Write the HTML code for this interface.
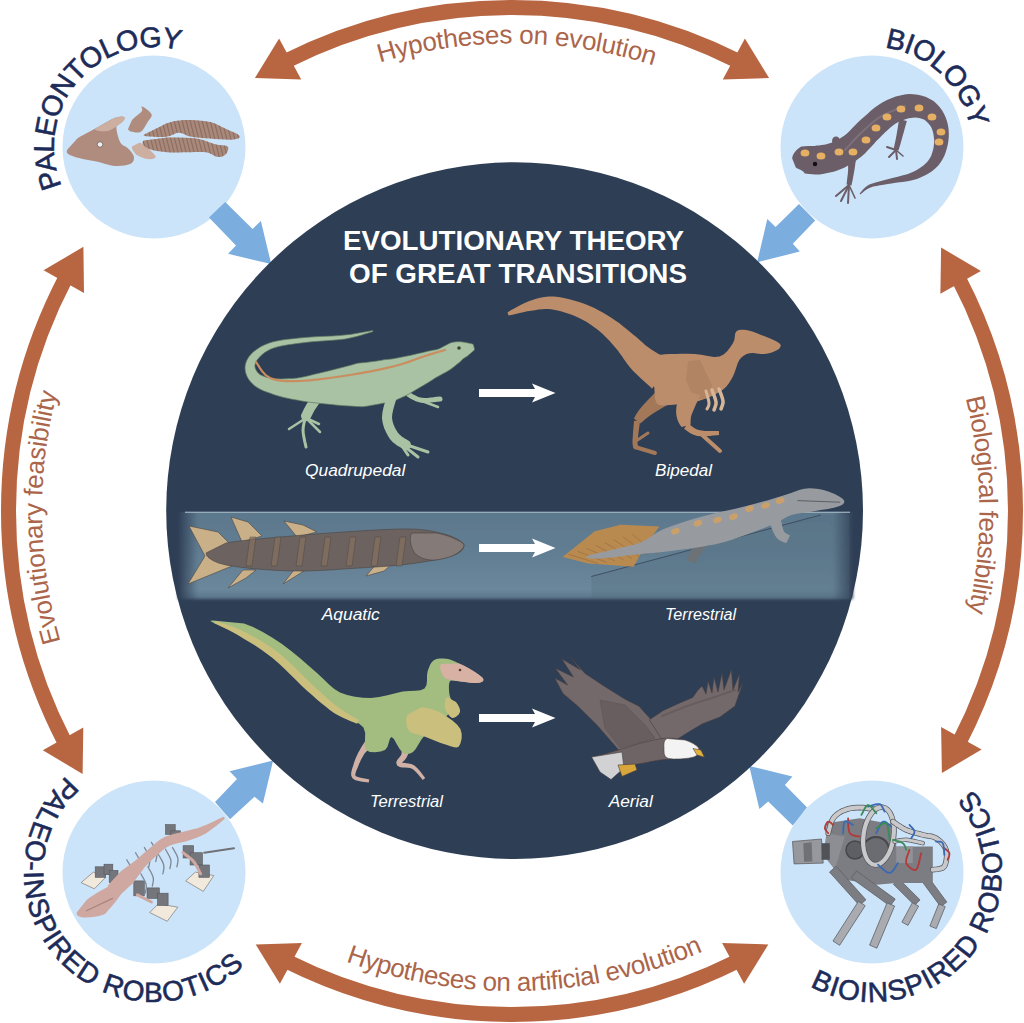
<!DOCTYPE html>
<html><head><meta charset="utf-8"><style>html,body{margin:0;padding:0;background:#fff;}svg{display:block}</style></head>
<body><svg width="1024" height="1023" viewBox="0 0 1024 1023">
<defs><path id="t_top" d="M157.0,206.8 A467.5,467.5 0 0 1 873.3,214.3"/><path id="t_bot" d="M153.1,829.7 A480.0,480.0 0 0 0 888.2,809.2"/><path id="t_left" d="M214.9,875.2 A470.0,470.0 0 0 1 204.9,155.2"/><path id="t_right" d="M807.8,149.0 A467.5,467.5 0 0 1 817.2,865.2"/><path id="l_pal" d="M77.4,211.3 A100.0,100.0 0 0 1 207.0,62.2"/><path id="l_bio" d="M851.4,49.1 A100.0,100.0 0 0 1 971.0,161.1"/><path id="l_pir" d="M104.3,751.9 A130.0,130.0 0 1 0 270.8,929.0"/><path id="l_bir" d="M774.6,958.1 A130.0,130.0 0 1 0 938.2,760.1"/><linearGradient id="wg" x1="0" y1="0" x2="0" y2="1">
<stop offset="0" stop-color="#5b778c"/><stop offset="0.5" stop-color="#617d92"/><stop offset="0.9" stop-color="#6b879b"/><stop offset="1" stop-color="#5a7489"/></linearGradient>
<linearGradient id="wgx" x1="0" y1="0" x2="1" y2="0">
<stop offset="0" stop-color="#2e3e55" stop-opacity="1"/><stop offset="0.03" stop-color="#2e3e55" stop-opacity="0"/><stop offset="0.97" stop-color="#2e3e55" stop-opacity="0"/><stop offset="1" stop-color="#2e3e55" stop-opacity="1"/></linearGradient>
<filter id="blur3" x="-5%" y="-20%" width="110%" height="140%"><feGaussianBlur stdDeviation="1.8"/></filter>
<clipPath id="bandclip"><rect x="150" y="512" width="740" height="110"/></clipPath></defs>
<rect width="1024" height="1023" fill="#ffffff"/>
<path d="M286.2,61.0 A503.5,503.5 0 0 1 737.8,61.0" fill="none" stroke="#b86541" stroke-width="15"/>
<path d="M254.9,78.1 L279.1,38.6 L301.2,79.4 Z" fill="#b86541"/>
<path d="M769.1,78.1 L722.8,79.4 L744.9,38.6 Z" fill="#b86541"/>
<path d="M958.6,278.5 A503.5,503.5 0 0 1 959.3,742.1" fill="none" stroke="#b86541" stroke-width="15"/>
<path d="M941.1,247.5 L980.9,271.1 L940.4,293.8 Z" fill="#b86541"/>
<path d="M941.9,773.1 L941.1,726.9 L981.6,749.4 Z" fill="#b86541"/>
<path d="M737.0,961.4 A503.5,503.5 0 0 1 287.0,961.4" fill="none" stroke="#b86541" stroke-width="15"/>
<path d="M768.3,944.4 L744.1,983.8 L722.1,942.9 Z" fill="#b86541"/>
<path d="M255.7,944.4 L301.9,942.9 L279.9,983.8 Z" fill="#b86541"/>
<path d="M65.1,742.9 A503.5,503.5 0 0 1 65.8,277.7" fill="none" stroke="#b86541" stroke-width="15"/>
<path d="M82.6,773.9 L42.8,750.3 L83.3,727.6 Z" fill="#b86541"/>
<path d="M83.4,246.8 L84.0,293.0 L43.6,270.3 Z" fill="#b86541"/>
<text font-family="Liberation Sans, sans-serif" font-size="26" fill="#ab654a" font-weight="normal" stroke="#ab654a" stroke-width="0" ><textPath href="#t_top" startOffset="50%" text-anchor="middle" textLength="278" lengthAdjust="spacing">Hypotheses on evolution</textPath></text>
<text font-family="Liberation Sans, sans-serif" font-size="26" fill="#ab654a" font-weight="normal" stroke="#ab654a" stroke-width="0" ><textPath href="#t_bot" startOffset="50%" text-anchor="middle" textLength="366" lengthAdjust="spacing">Hypotheses on artificial evolution</textPath></text>
<text font-family="Liberation Sans, sans-serif" font-size="26" fill="#ab654a" font-weight="normal" stroke="#ab654a" stroke-width="0" ><textPath href="#t_left" startOffset="50%" text-anchor="middle" textLength="252" lengthAdjust="spacing">Evolutionary feasibility</textPath></text>
<text font-family="Liberation Sans, sans-serif" font-size="26" fill="#ab654a" font-weight="normal" stroke="#ab654a" stroke-width="0" ><textPath href="#t_right" startOffset="50%" text-anchor="middle" textLength="216" lengthAdjust="spacing">Biological feasibility</textPath></text>
<circle cx="154" cy="147" r="91.5" fill="#cbe4f9"/>
<circle cx="872" cy="147" r="91.5" fill="#cbe4f9"/>
<circle cx="154" cy="872" r="91.5" fill="#cbe4f9"/>
<circle cx="872" cy="872" r="91.5" fill="#cbe4f9"/>
<text font-family="Liberation Sans, sans-serif" font-size="28.5" fill="#1d2b59" font-weight="normal" stroke="#1d2b59" stroke-width="0.6" ><textPath href="#l_pal" startOffset="50%" text-anchor="middle" textLength="223" lengthAdjust="spacing">PALEONTOLOGY</textPath></text>
<text font-family="Liberation Sans, sans-serif" font-size="28.5" fill="#1d2b59" font-weight="normal" stroke="#1d2b59" stroke-width="0.6" ><textPath href="#l_bio" startOffset="50%" text-anchor="middle" textLength="125" lengthAdjust="spacing">BIOLOGY</textPath></text>
<text font-family="Liberation Sans, sans-serif" font-size="28" fill="#1d2b59" font-weight="normal" stroke="#1d2b59" stroke-width="0.6" ><textPath href="#l_pir" startOffset="50%" text-anchor="middle" textLength="412" lengthAdjust="spacing">PALEO-INSPIRED ROBOTICS</textPath></text>
<text font-family="Liberation Sans, sans-serif" font-size="28" fill="#1d2b59" font-weight="normal" stroke="#1d2b59" stroke-width="0.6" ><textPath href="#l_bir" startOffset="50%" text-anchor="middle" textLength="358" lengthAdjust="spacing">BIOINSPIRED ROBOTICS</textPath></text>
<path d="M225.2,202.0 L252.6,228.9 L260.9,221.0 L271.2,264.1 L228.1,253.8 L236.0,245.5 L209.0,217.6 Z" fill="#7badde"/>
<path d="M757.2,262.2 L799.8,251.6 L792.8,243.7 L815.2,220.4 L799.0,204.1 L775.6,227.0 L767.3,219.0 Z" fill="#7badde"/>
<path d="M273.1,760.5 L262.9,803.6 L254.5,796.7 L230.0,819.2 L215.0,802.0 L237.0,779.1 L229.6,771.3 Z" fill="#7badde"/>
<path d="M749.2,766.0 L792.4,776.5 L784.9,784.9 L806.9,807.3 L792.8,825.4 L768.2,801.6 L759.4,809.0 Z" fill="#7badde"/>
<circle cx="514.6" cy="510.6" r="348.4" fill="#2d3e55"/>
<text x="513.5" y="250" font-family="Liberation Sans, sans-serif" font-weight="bold" font-size="26.8" fill="#ffffff" text-anchor="middle" textLength="341" lengthAdjust="spacingAndGlyphs">EVOLUTIONARY THEORY</text>
<text x="518" y="283.4" font-family="Liberation Sans, sans-serif" font-weight="bold" font-size="26.8" fill="#ffffff" text-anchor="middle" textLength="338" lengthAdjust="spacingAndGlyphs">OF GREAT TRANSITIONS</text>
<g clip-path="url(#bandclip)" filter="url(#blur3)"><rect x="178" y="505" width="675" height="94" fill="url(#wg)"/><rect x="178" y="505" width="675" height="94" fill="url(#wgx)"/></g>
<rect x="185" y="511.6" width="665" height="1.4" fill="#a8bac6" opacity="0.8"/>
<path d="M479,389 L535,389 L532,383.4 L555.5,393 L532,402.6 L535,397 L479,397 Z" fill="#ffffff"/>
<path d="M479,544 L535,544 L532,538.4 L555.5,548 L532,557.6 L535,552 L479,552 Z" fill="#ffffff"/>
<path d="M479,714 L535,714 L532,708.4 L555.5,718 L532,727.6 L535,722 L479,722 Z" fill="#ffffff"/>
<text x="355.15" y="475.8" font-family="Liberation Sans, sans-serif" font-style="italic" font-size="16" fill="#ffffff" text-anchor="middle" textLength="100.30000000000001" lengthAdjust="spacingAndGlyphs">Quadrupedal</text>
<text x="683.5" y="475.8" font-family="Liberation Sans, sans-serif" font-style="italic" font-size="16" fill="#ffffff" text-anchor="middle" textLength="57" lengthAdjust="spacingAndGlyphs">Bipedal</text>
<text x="350.75" y="619.5" font-family="Liberation Sans, sans-serif" font-style="italic" font-size="16" fill="#ffffff" text-anchor="middle" textLength="58.10000000000002" lengthAdjust="spacingAndGlyphs">Aquatic</text>
<text x="700.5" y="619.9" font-family="Liberation Sans, sans-serif" font-style="italic" font-size="16" fill="#ffffff" text-anchor="middle" textLength="71" lengthAdjust="spacingAndGlyphs">Terrestrial</text>
<text x="406.5" y="806.6" font-family="Liberation Sans, sans-serif" font-style="italic" font-size="16" fill="#ffffff" text-anchor="middle" textLength="73" lengthAdjust="spacingAndGlyphs">Terrestrial</text>
<text x="630.75" y="806.5" font-family="Liberation Sans, sans-serif" font-style="italic" font-size="16" fill="#ffffff" text-anchor="middle" textLength="44.09999999999991" lengthAdjust="spacingAndGlyphs">Aerial</text>
<g stroke="#5d7560" stroke-width="0.7">
<path d="M322.0,392.0 L320.6,393.8 L318.5,396.4 L316.2,399.3 L313.9,402.3 L312.0,405.0 L310.4,407.5 L309.0,410.1 L307.8,412.5 L306.8,414.5 L306.0,416.0" fill="none" stroke="#a8c2a3" stroke-width="10" stroke-linecap="round" stroke-linejoin="round" />
<path d="M306.0,416.0 L305.5,417.9 L304.7,420.4 L303.9,423.5 L303.3,426.8 L303.0,430.0 L303.3,433.5 L303.9,437.4 L304.7,441.3 L305.5,444.6 L306.0,447.0" fill="none" stroke="#a8c2a3" stroke-width="3" stroke-linecap="round" stroke-linejoin="round" />
<path d="M306.0,418.0 L289.0,429.0" fill="none" stroke="#a8c2a3" stroke-width="2.5" stroke-linecap="round" stroke-linejoin="round" />
<path d="M306.0,418.0 L320.0,432.0" fill="none" stroke="#a8c2a3" stroke-width="2.5" stroke-linecap="round" stroke-linejoin="round" />
<path d="M306.0,418.0 L319.0,424.0" fill="none" stroke="#a8c2a3" stroke-width="2.5" stroke-linecap="round" stroke-linejoin="round" />
<path d="M405.0,392.0 L407.0,393.2 L409.7,395.1 L412.9,397.1 L416.4,398.8 L420.0,400.0 L424.0,400.4 L428.6,400.2 L433.2,399.8 L437.2,399.3 L440.0,399.0" fill="none" stroke="#a8c2a3" stroke-width="5" stroke-linecap="round" stroke-linejoin="round" />
<path d="M422.0,401.0 L438.0,407.0" fill="none" stroke="#a8c2a3" stroke-width="2.5" stroke-linecap="round" stroke-linejoin="round" />
<path d="M372.9,330.5 L369.9,331.0 L365.9,331.7 L361.2,332.6 L355.9,333.5 L350.4,334.4 L344.7,335.0 L338.7,335.6 L332.1,336.0 L325.1,336.3 L318.0,336.6 L311.2,337.0 L304.7,337.5 L298.7,338.1 L292.9,338.7 L287.2,339.3 L281.8,340.1 L276.7,341.0 L272.1,342.1 L268.0,343.4 L264.3,344.9 L261.0,346.6 L258.1,348.4 L255.5,350.2 L253.2,352.1 L251.0,354.2 L249.1,356.4 L247.5,358.9 L246.3,361.4 L245.4,364.2 L245.0,367.0 L245.1,370.0 L245.7,372.9 L246.7,375.8 L248.1,378.5 L249.9,381.1 L252.1,383.5 L254.5,385.7 L257.2,387.6 L260.2,389.3 L263.3,390.8 L266.7,392.1 L270.3,393.3 L274.1,394.7 L278.3,396.0 L282.7,397.2 L287.2,398.2 L291.9,399.2 L296.6,400.0 L301.4,400.9 L306.2,401.7 L311.0,402.4 L315.9,402.9 L320.9,403.5 L326.0,404.0 L331.7,404.6 L337.7,405.2 L343.9,405.7 L350.3,406.1 L356.6,406.5 L362.6,406.8 L368.2,406.0 L373.7,405.0 L379.2,404.0 L384.6,402.9 L389.8,401.7 L395.1,400.4 L400.1,398.3 L404.7,396.2 L408.9,394.0 L412.6,391.8 L416.0,389.8 L419.1,387.9 L422.3,386.1 L425.4,384.3 L428.2,382.6 L430.7,381.0 L433.1,379.4 L435.2,378.0 L437.1,376.9 L439.0,375.9 L441.1,374.8 L443.3,373.6 L445.8,372.3 L448.4,370.7 L451.2,368.9 L453.7,367.0 L455.9,365.2 L457.9,363.6 L459.4,362.4 L460.6,361.4 L461.4,360.4 L462.4,359.5 L463.5,358.6 L464.8,357.7 L466.3,356.8 L467.8,355.8 L469.1,354.6 L470.4,353.5 L471.7,352.4 L472.9,351.4 L473.9,350.4 L474.6,349.4 L473.4,344.6 L472.4,344.0 L471.1,343.6 L469.5,343.2 L467.8,342.9 L466.0,342.5 L464.2,342.2 L462.7,342.0 L461.1,341.8 L459.1,341.7 L456.9,341.7 L454.3,342.0 L451.4,342.6 L448.6,343.8 L445.9,345.2 L443.4,346.5 L441.2,347.7 L439.2,348.7 L437.6,349.3 L436.0,349.7 L434.3,350.0 L432.4,350.3 L430.2,350.7 L427.7,351.3 L424.8,352.0 L421.9,352.7 L419.0,353.3 L416.1,354.0 L413.1,354.7 L410.1,355.4 L406.9,356.1 L403.2,356.8 L399.4,357.6 L395.7,358.3 L392.1,358.9 L388.6,359.3 L384.9,359.6 L381.1,360.3 L376.9,361.0 L372.3,361.6 L367.5,362.2 L362.5,362.7 L357.4,363.2 L352.2,364.8 L346.6,366.3 L340.8,367.8 L335.0,369.3 L329.3,370.7 L324.0,372.0 L318.9,373.2 L314.2,374.3 L309.8,375.4 L305.6,376.4 L301.5,377.3 L297.4,378.0 L293.2,378.4 L289.0,378.6 L284.8,378.8 L280.8,378.9 L277.1,378.8 L273.7,378.7 L270.7,378.2 L267.9,377.5 L265.5,376.9 L263.3,376.1 L261.5,375.3 L259.9,374.5 L258.7,373.4 L257.5,372.2 L256.6,370.9 L255.8,369.5 L255.3,368.2 L255.0,367.0 L254.9,365.8 L255.1,364.4 L255.6,362.9 L256.3,361.3 L257.4,359.6 L258.8,357.9 L260.5,356.1 L262.5,354.3 L264.7,352.5 L267.3,350.9 L270.4,349.3 L273.9,347.9 L278.0,346.7 L282.7,345.7 L288.0,344.8 L293.5,344.0 L299.3,343.2 L305.3,342.5 L311.5,341.8 L318.3,341.3 L325.4,340.8 L332.4,340.3 L339.1,339.7 L345.3,339.0 L351.0,337.8 L356.6,336.5 L361.8,335.0 L366.4,333.6 L370.3,332.4 L373.1,331.5 Z" fill="#a8c2a3" />
<path d="M256.0,362.0 L257.6,364.4 L259.8,367.9 L262.6,371.8 L266.0,375.4 L270.0,378.0 L274.7,379.6 L279.9,380.6 L285.8,381.1 L292.5,381.2 L300.0,381.0 L308.8,380.4 L318.8,379.4 L329.4,378.0 L340.0,376.5 L350.0,375.0 L359.6,373.4 L369.1,371.7 L378.3,369.8 L387.0,367.9 L395.0,366.0 L402.1,364.0 L408.6,361.9 L414.4,359.8 L419.9,357.8 L425.0,356.0 L430.0,354.4 L434.7,353.0 L438.9,351.8 L442.4,350.8 L445.0,350.0" fill="none" stroke="#c98d5f" stroke-width="2.2" stroke-linecap="round" stroke-linejoin="round" />
<path d="M392.0,396.0 L391.1,399.1 L389.8,403.4 L388.4,408.4 L387.3,413.5 L387.0,418.0 L387.6,422.0 L388.7,425.9 L390.3,429.6 L392.1,433.0 L394.0,436.0 L396.3,438.5 L399.0,440.7 L401.8,442.5 L404.3,443.9 L406.0,445.0" fill="none" stroke="#a8c2a3" stroke-width="10" stroke-linecap="round" stroke-linejoin="round" />
<path d="M404.0,444.0 L428.0,452.0" fill="none" stroke="#a8c2a3" stroke-width="3" stroke-linecap="round" stroke-linejoin="round" />
<path d="M404.0,446.0 L418.0,457.0" fill="none" stroke="#a8c2a3" stroke-width="3" stroke-linecap="round" stroke-linejoin="round" />
<path d="M402.0,446.0 L408.0,455.0" fill="none" stroke="#a8c2a3" stroke-width="3" stroke-linecap="round" stroke-linejoin="round" />
<circle cx="459" cy="348" r="1.6" fill="#3a3a2a"/>
</g>
<g>
<path d="M656.4,391.0 L654.9,392.8 L652.6,395.2 L649.9,398.0 L647.0,401.0 L644.2,403.9 L641.9,406.6 L639.9,409.0 L638.2,411.3 L636.7,413.6 L635.5,415.5 L634.6,417.2 L634.0,418.4 L640.0,423.6 L641.2,422.7 L642.7,421.5 L644.3,420.1 L646.1,418.5 L648.0,416.9 L650.1,415.4 L652.7,413.8 L655.8,411.8 L659.2,409.7 L662.5,407.8 L665.4,406.1 L667.6,405.0 Z" fill="#a37859" />
<path d="M634.0,420.7 L633.8,423.3 L633.5,427.0 L633.1,431.4 L632.8,435.9 L632.5,439.9 L632.5,443.0 L632.7,445.2 L633.1,447.0 L633.9,448.3 L634.7,449.2 L635.0,449.4 L635.0,449.5 L639.0,446.5 L638.5,445.9 L638.0,445.5 L637.9,445.4 L637.8,445.2 L637.6,444.5 L637.5,443.0 L637.7,440.2 L638.1,436.3 L638.6,432.0 L639.2,427.6 L639.6,423.9 L640.0,421.3 Z" fill="#a37859" />
<path d="M635.0,447.0 L655.0,453.0" fill="none" stroke="#a37859" stroke-width="4" stroke-linecap="round" stroke-linejoin="round" />
<path d="M636.0,441.0 L648.0,433.0" fill="none" stroke="#a37859" stroke-width="3" stroke-linecap="round" stroke-linejoin="round" />
<path d="M508.5,315.4 L511.2,315.0 L514.7,314.2 L518.7,313.2 L523.1,312.2 L527.3,311.3 L531.3,310.8 L534.9,310.2 L538.5,309.6 L542.0,309.2 L545.4,309.0 L548.8,309.1 L552.4,309.5 L556.4,310.2 L560.9,311.3 L565.5,312.7 L570.3,314.3 L574.8,316.1 L579.1,317.9 L583.0,319.9 L586.7,322.1 L590.4,324.5 L593.9,327.0 L597.4,329.6 L600.7,332.3 L603.7,334.9 L606.4,337.7 L609.2,340.6 L611.8,343.6 L614.6,346.7 L617.2,349.8 L619.6,352.9 L621.8,356.1 L624.1,359.4 L626.6,363.0 L629.5,366.7 L632.7,370.4 L636.3,374.1 L640.2,377.8 L644.0,381.2 L647.4,384.3 L650.2,386.8 L652.0,388.8 L672.0,361.2 L669.4,360.0 L666.0,358.2 L662.2,356.1 L658.2,353.8 L654.5,351.5 L651.3,349.6 L648.6,347.6 L645.7,345.4 L642.8,342.8 L639.6,340.0 L636.3,337.1 L632.8,334.2 L629.5,331.4 L626.2,328.7 L622.7,325.9 L619.1,323.1 L615.3,320.4 L611.3,317.7 L607.3,315.2 L603.2,312.7 L598.9,310.4 L594.4,308.1 L589.7,306.0 L584.9,304.1 L579.9,302.3 L574.7,300.7 L569.3,299.2 L564.0,298.0 L558.7,297.1 L553.6,296.5 L548.8,296.6 L544.3,297.0 L540.1,297.8 L536.2,298.8 L532.5,300.0 L528.7,301.2 L524.7,302.9 L520.5,305.0 L516.4,307.2 L512.7,309.3 L509.6,311.1 L507.5,312.6 Z" fill="#bb8d6b" />
<path d="M653.2,354.8 L656.9,355.1 L660.8,354.8 L665.0,354.3 L669.8,354.0 L675.4,353.9 L681.7,353.8 L688.3,353.8 L694.7,354.0 L701.2,354.8 L707.9,356.1 L714.2,356.9 L719.6,356.5 L724.0,354.2 L727.6,350.7 L730.6,346.8 L732.9,343.2 L734.3,339.9 L734.8,336.7 L735.1,333.8 L736.2,331.6 L738.1,330.3 L740.5,329.8 L743.2,329.7 L746.2,330.0 L749.5,330.7 L753.1,331.8 L757.0,333.3 L761.1,334.9 L765.9,336.8 L771.3,338.9 L776.2,341.2 L779.4,343.2 L780.7,345.0 L780.5,346.8 L779.4,348.4 L777.7,349.8 L775.2,351.1 L771.9,352.4 L768.1,353.4 L764.4,354.0 L760.7,354.0 L756.7,353.5 L752.9,353.0 L749.5,353.2 L746.6,354.1 L744.0,355.4 L741.6,357.3 L739.5,359.8 L737.7,363.3 L736.2,367.7 L734.7,372.2 L732.9,376.4 L730.9,380.0 L728.7,383.5 L726.2,386.7 L722.9,389.7 L718.5,392.6 L713.4,395.3 L708.0,397.7 L703.0,399.6 L698.6,400.9 L694.5,401.8 L690.5,402.4 L686.4,403.0 L682.2,403.7 L678.0,404.3 L673.9,404.8 L670.0,405.0 L666.2,405.2 L662.4,405.4 L659.1,404.9 L656.5,403.0 L655.1,399.1 L654.7,393.6 L654.3,387.8 L653.2,383.0 L650.7,379.9 L647.5,377.8 L644.3,375.5 L642.0,372.0 L640.5,366.2 L639.5,358.9 L639.2,352.1 L640.0,348.0 Z" fill="#bb8d6b" />
<path d="M688.0,361.0 L700.0,360.0 L712.0,385.0 L708.0,399.0 L694.0,399.0 L686.0,380.0 Z" fill="#9b6f52" opacity="0.3"/>
<path d="M679.5,388.7 L679.3,391.2 L678.6,394.6 L677.8,398.9 L677.0,403.4 L676.3,407.8 L676.1,412.1 L676.5,416.0 L677.4,419.4 L678.5,422.2 L679.7,424.4 L680.8,426.0 L681.6,427.0 L690.4,425.0 L690.6,423.4 L690.6,421.4 L690.7,419.4 L690.9,417.4 L691.3,415.6 L691.9,413.9 L692.9,411.6 L694.3,408.3 L695.9,404.5 L697.7,400.8 L699.2,397.6 L700.5,395.3 Z" fill="#bb8d6b" />
<path d="M684.0,428.9 L685.2,429.6 L686.8,430.7 L688.8,432.2 L691.3,433.7 L694.2,435.0 L697.4,435.9 L701.0,436.2 L705.1,436.2 L709.3,435.9 L713.3,435.6 L716.7,435.2 L719.1,435.0 L718.9,431.0 L716.5,430.9 L713.1,430.9 L709.2,430.9 L705.1,430.9 L701.4,430.6 L698.6,430.1 L696.5,429.3 L694.5,428.2 L692.5,426.8 L690.8,425.4 L689.2,424.1 L688.0,423.1 Z" fill="#bb8d6b" />
<path d="M700.0,433.0 L720.0,451.0" fill="none" stroke="#bb8d6b" stroke-width="4" stroke-linecap="round" stroke-linejoin="round" />
<path d="M712.0,390.0 L712.6,391.7 L713.6,394.1 L714.6,396.9 L715.5,399.7 L716.0,402.0 L716.0,404.0 L715.5,405.9 L714.9,407.6 L714.4,409.0 L714.0,410.0" fill="none" stroke="#d8b596" stroke-width="3.5" stroke-linecap="round" stroke-linejoin="round" />
<path d="M719.0,389.0 L719.6,390.7 L720.6,393.1 L721.6,395.9 L722.5,398.7 L723.0,401.0 L723.0,403.0 L722.5,404.9 L721.9,406.6 L721.4,408.0 L721.0,409.0" fill="none" stroke="#d8b596" stroke-width="3.5" stroke-linecap="round" stroke-linejoin="round" />
<path d="M706.0,391.0 L706.5,392.7 L707.2,395.2 L708.0,398.1 L708.7,400.8 L709.0,403.0 L708.9,404.7 L708.5,406.1 L707.9,407.3 L707.4,408.3 L707.0,409.0" fill="none" stroke="#d8b596" stroke-width="3" stroke-linecap="round" stroke-linejoin="round" />
</g>
<g stroke="#4a4442" stroke-width="0.6">
<path d="M189.0,526.0 L218.0,532.0 L232.0,546.0 L214.0,556.0 L232.0,566.0 L188.0,584.0 L205.0,556.0 Z" fill="#c9b089" />
<path d="M231.0,517.0 L248.0,522.0 L262.0,536.0 L242.0,542.0 Z" fill="#c9b089" />
<path d="M284.0,521.0 L303.0,525.0 L317.0,532.0 L297.0,537.0 Z" fill="#c9b089" />
<path d="M228.0,588.0 L243.0,570.0 L256.0,570.0 L246.0,578.0 Z" fill="#c9b089" />
<path d="M283.0,584.0 L294.0,570.0 L304.0,571.0 Z" fill="#c9b089" />
<path d="M366.0,576.0 L378.0,562.0 L393.0,563.0 L384.0,571.0 Z" fill="#c9b089" />
<path d="M226.0,543.0 L236.2,541.4 L249.0,539.9 L263.3,538.5 L278.0,537.2 L292.0,536.0 L305.6,534.8 L319.5,533.7 L333.4,532.7 L346.7,531.8 L359.0,531.0 L370.5,530.3 L381.3,529.7 L391.5,529.3 L400.7,529.0 L409.0,529.0 L416.0,529.2 L421.8,529.7 L426.9,530.3 L431.5,531.1 L436.0,532.0 L440.5,533.0 L444.7,534.1 L448.5,535.3 L452.0,536.6 L455.0,538.0 L457.8,539.4 L460.3,541.0 L462.4,542.6 L463.7,544.2 L464.0,546.0 L463.4,547.9 L462.2,550.0 L460.0,552.0 L456.7,554.1 L452.0,556.0 L445.5,557.8 L437.4,559.5 L428.2,561.2 L418.5,562.7 L409.0,564.0 L399.7,565.1 L390.3,565.9 L380.6,566.7 L370.2,567.3 L359.0,568.0 L346.7,568.8 L333.4,569.7 L319.5,570.5 L305.6,571.0 L292.0,571.0 L278.0,570.5 L263.3,569.5 L249.0,568.3 L236.2,566.7 L226.0,565.0 L218.4,563.0 L212.8,560.5 L208.9,557.9 L206.7,555.4 L206.0,553.0 Z" fill="#6c6360" />
<path d="M250,537 L256,537 L252,566 L246,566 Z" fill="#86705f" opacity="0.7"/>
<path d="M275,537 L281,537 L277,566 L271,566 Z" fill="#86705f" opacity="0.7"/>
<path d="M300,537 L306,537 L302,566 L296,566 Z" fill="#86705f" opacity="0.7"/>
<path d="M325,537 L331,537 L327,566 L321,566 Z" fill="#86705f" opacity="0.7"/>
<path d="M350,537 L356,537 L352,566 L346,566 Z" fill="#86705f" opacity="0.7"/>
<path d="M375,537 L381,537 L377,566 L371,566 Z" fill="#86705f" opacity="0.7"/>
<path d="M400,537 L406,537 L402,566 L396,566 Z" fill="#86705f" opacity="0.7"/>
<path d="M436.0,533.0 L440.3,533.8 L444.4,534.9 L448.4,536.2 L451.9,537.6 L455.0,539.0 L457.8,540.3 L460.3,541.6 L462.4,542.9 L463.7,544.4 L464.0,546.0 L463.1,547.9 L461.2,550.1 L458.5,552.3 L455.4,554.3 L452.0,556.0 L448.1,557.4 L443.6,558.6 L438.8,559.6 L434.2,560.1 L430.0,560.0 L426.2,559.3 L422.5,558.2 L419.1,556.6 L416.2,554.5 L414.0,552.0 L412.3,548.6 L410.9,544.3 L410.3,539.8 L410.5,535.8 L412.0,533.0 Z" fill="#847a77" />
</g>
<path d="M591.6,576.4 L820.4,515.1 L849.4,515.1 L849.4,598.9 L591.6,598.9 Z" fill="#4f6679" opacity="0.25"/>
<path d="M591.6,576.4 L820.4,515.1" fill="none" stroke="#3e4f5f" stroke-width="1" stroke-linecap="round" stroke-linejoin="round" />
<path d="M562.6,557.0 L594.8,531.2 L620.6,524.8 L659.3,526.4 L646.4,544.1 L633.5,566.7 L588.3,563.5 Z" fill="#b98a50" />
<path d="M569.0,554.4 L598.0,563.5" fill="none" stroke="#8a6438" stroke-width="0.8" stroke-linecap="round" stroke-linejoin="round" opacity="0.6"/>
<path d="M578.0,551.5 L606.4,562.2" fill="none" stroke="#8a6438" stroke-width="0.8" stroke-linecap="round" stroke-linejoin="round" opacity="0.6"/>
<path d="M587.1,548.6 L614.8,560.9" fill="none" stroke="#8a6438" stroke-width="0.8" stroke-linecap="round" stroke-linejoin="round" opacity="0.6"/>
<path d="M596.1,545.7 L623.2,559.6" fill="none" stroke="#8a6438" stroke-width="0.8" stroke-linecap="round" stroke-linejoin="round" opacity="0.6"/>
<path d="M605.1,542.8 L631.5,558.3" fill="none" stroke="#8a6438" stroke-width="0.8" stroke-linecap="round" stroke-linejoin="round" opacity="0.6"/>
<path d="M614.1,539.9 L639.9,557.0" fill="none" stroke="#8a6438" stroke-width="0.8" stroke-linecap="round" stroke-linejoin="round" opacity="0.6"/>
<path d="M623.2,537.0 L648.3,555.7" fill="none" stroke="#8a6438" stroke-width="0.8" stroke-linecap="round" stroke-linejoin="round" opacity="0.6"/>
<path d="M632.2,534.1 L656.7,554.4" fill="none" stroke="#8a6438" stroke-width="0.8" stroke-linecap="round" stroke-linejoin="round" opacity="0.6"/>
<path d="M695.6,539.3 L695.1,540.7 L694.3,542.6 L693.3,544.8 L692.2,547.2 L691.2,549.5 L690.4,551.6 L689.6,553.5 L688.9,555.3 L688.3,556.9 L687.9,558.3 L687.5,559.5 L687.3,560.3 L695.7,563.4 L696.1,562.6 L696.5,561.5 L697.1,560.2 L697.7,558.8 L698.3,557.4 L699.0,556.0 L700.1,554.4 L701.5,552.5 L703.0,550.5 L704.4,548.6 L705.7,546.9 L706.7,545.8 Z" fill="#6d7276" />
<path d="M636.7,544.1 L644.4,540.7 L650.2,537.0 L655.7,533.2 L662.5,529.6 L671.1,526.2 L680.6,522.9 L690.7,519.8 L701.1,516.7 L712.1,513.9 L723.7,511.3 L735.3,508.7 L746.3,506.1 L756.8,503.3 L767.2,500.4 L776.8,497.6 L784.9,495.1 L791.1,493.0 L795.8,491.2 L799.9,489.7 L804.3,488.7 L809.1,488.3 L814.0,488.4 L818.8,488.9 L823.6,490.0 L829.0,491.7 L834.7,494.1 L839.7,496.7 L843.0,499.0 L844.3,501.0 L844.2,502.8 L842.7,504.5 L839.7,506.1 L834.8,507.6 L828.1,508.9 L820.7,510.1 L814.0,511.3 L808.0,512.2 L802.3,512.9 L796.7,513.8 L791.4,515.1 L786.8,517.0 L782.7,519.3 L778.2,521.9 L772.1,524.8 L763.4,528.3 L753.1,532.2 L742.6,536.1 L733.4,539.3 L726.3,541.5 L720.5,543.1 L714.6,544.4 L707.6,545.7 L698.7,547.2 L688.7,548.7 L678.4,550.0 L668.9,551.2 L660.6,552.2 L652.8,552.9 L645.0,553.6 L636.7,554.4 L626.8,555.6 L615.9,556.9 L605.8,558.1 L598.0,558.6 L592.2,558.5 L587.7,558.0 L586.0,557.0 L588.3,555.4 Z" fill="#979b9f" />
<path d="M769.8,523.4 L770.4,524.7 L771.2,526.8 L772.1,529.4 L773.3,532.1 L774.6,534.8 L776.2,537.3 L778.3,539.4 L780.4,540.8 L782.5,541.7 L784.3,542.4 L785.6,542.8 L786.4,543.1 L790.0,535.5 L789.0,534.9 L787.7,534.3 L786.4,533.6 L785.3,532.9 L784.5,532.2 L784.0,531.6 L783.6,530.4 L782.9,528.4 L782.2,526.0 L781.7,523.6 L781.2,521.4 L780.8,519.8 Z" fill="#979b9f" />
<path d="M797.8,500.6 L839.7,502.2" fill="none" stroke="#5c6064" stroke-width="1" stroke-linecap="round" stroke-linejoin="round" />
<ellipse cx="675.4" cy="531.2" rx="4.5" ry="3" fill="#c9a06c" transform="rotate(-20 675.4 531.2)"/>
<ellipse cx="697.9" cy="523.2" rx="4.5" ry="3" fill="#c9a06c" transform="rotate(-20 697.9 523.2)"/>
<ellipse cx="717.3" cy="520.0" rx="4.5" ry="3" fill="#c9a06c" transform="rotate(-20 717.3 520.0)"/>
<ellipse cx="733.4" cy="516.7" rx="4.5" ry="3" fill="#c9a06c" transform="rotate(-20 733.4 516.7)"/>
<ellipse cx="749.5" cy="508.7" rx="4.5" ry="3" fill="#c9a06c" transform="rotate(-20 749.5 508.7)"/>
<ellipse cx="765.6" cy="505.5" rx="4.5" ry="3" fill="#c9a06c" transform="rotate(-20 765.6 505.5)"/>
<ellipse cx="780.1" cy="500.6" rx="4.5" ry="3" fill="#c9a06c" transform="rotate(-20 780.1 500.6)"/>
<g>
<path d="M366.6,739.1 L365.9,740.3 L364.8,741.9 L363.5,743.8 L362.1,745.9 L360.7,748.2 L359.5,750.4 L358.3,752.6 L357.2,754.9 L356.1,757.2 L355.2,759.6 L354.3,762.0 L353.6,764.2 L353.0,766.3 L352.2,768.6 L351.5,771.0 L351.1,773.4 L351.3,775.9 L352.5,778.3 L354.9,779.9 L357.8,780.8 L361.0,781.5 L364.2,781.9 L366.9,782.2 L368.7,782.5 L369.3,779.5 L367.4,779.1 L364.7,778.6 L361.7,778.0 L358.8,777.3 L356.5,776.4 L355.5,775.7 L355.3,775.0 L355.4,773.8 L355.9,772.1 L356.6,770.1 L357.5,768.0 L358.4,765.8 L359.2,763.8 L360.1,761.7 L361.1,759.5 L362.2,757.4 L363.4,755.4 L364.5,753.6 L366.0,751.9 L367.6,750.3 L369.2,748.6 L370.9,747.1 L372.3,745.8 L373.4,744.9 Z" fill="#d1b1a6" />
<path d="M402.1,747.2 L402.1,748.1 L402.0,749.4 L401.9,750.8 L401.7,752.2 L401.5,753.6 L401.3,754.7 L400.8,755.6 L399.7,757.0 L398.4,758.5 L397.1,760.2 L396.2,762.5 L397.1,765.6 L399.6,767.0 L402.1,767.4 L404.8,767.5 L407.6,767.7 L410.0,768.0 L412.0,768.7 L413.9,770.1 L416.0,772.0 L418.0,774.3 L419.9,776.6 L421.6,778.6 L422.8,780.0 L425.2,778.0 L424.1,776.6 L422.6,774.5 L420.7,772.1 L418.6,769.5 L416.4,767.2 L414.0,765.3 L411.2,764.0 L408.2,763.4 L405.2,763.0 L402.6,762.7 L401.0,762.4 L400.9,762.4 L401.3,763.4 L401.6,763.2 L402.6,762.1 L404.0,760.7 L405.5,759.1 L406.7,757.3 L407.5,755.6 L408.2,753.9 L408.7,752.2 L409.2,750.8 L409.6,749.6 L409.9,748.8 Z" fill="#d1b1a6" />
<path d="M244.0,623.4 L253.1,627.1 L262.8,632.1 L272.5,637.8 L282.0,644.0 L291.2,650.9 L300.4,658.6 L309.2,666.2 L317.0,673.0 L323.4,678.9 L328.8,684.2 L334.0,688.8 L340.0,692.4 L347.2,695.0 L355.0,696.8 L363.0,697.7 L371.0,697.9 L379.1,697.1 L387.4,695.3 L395.4,693.2 L402.6,691.6 L409.2,690.9 L415.3,690.7 L420.6,690.2 L424.5,688.5 L426.5,685.0 L427.0,680.4 L427.0,675.5 L427.6,671.3 L428.8,667.9 L430.1,664.8 L431.7,662.2 L433.8,660.3 L436.5,659.1 L439.7,658.6 L443.0,658.5 L446.3,658.8 L449.2,659.3 L451.9,660.2 L455.0,661.5 L458.9,663.5 L464.6,666.5 L471.7,670.5 L478.2,674.4 L482.3,677.5 L483.5,679.7 L482.8,681.3 L480.6,682.4 L477.6,683.0 L473.0,682.9 L466.7,682.1 L460.5,681.2 L455.7,680.7 L452.9,680.5 L451.2,680.5 L450.2,681.0 L449.5,682.2 L449.0,684.6 L448.9,687.9 L449.1,691.4 L449.5,694.7 L450.3,697.5 L451.5,700.2 L452.5,702.9 L452.6,705.7 L451.7,708.6 L450.2,711.5 L448.0,714.6 L445.0,718.0 L440.7,721.9 L435.3,726.2 L429.7,730.6 L425.0,735.0 L421.4,739.6 L418.4,744.6 L415.7,748.9 L413.0,752.0 L410.2,753.5 L407.4,754.0 L404.7,753.5 L402.0,752.0 L399.3,748.6 L396.5,743.7 L393.9,739.1 L391.6,737.0 L390.0,738.6 L388.8,742.6 L387.4,747.0 L385.0,750.0 L380.7,751.4 L375.2,752.2 L369.9,751.9 L366.0,750.0 L364.7,745.8 L365.0,739.7 L365.2,733.1 L363.5,727.6 L359.2,723.7 L353.4,720.6 L346.7,717.5 L340.0,713.5 L333.4,708.6 L326.6,703.1 L319.3,696.9 L311.3,690.0 L302.5,681.8 L292.9,672.4 L283.0,663.1 L273.3,655.0 L263.3,648.3 L253.1,642.4 L243.3,637.3 L235.0,633.0 L228.2,629.6 L222.5,627.0 L218.0,625.0 L214.6,623.4 L212.1,622.1 L210.6,621.2 L210.7,620.7 L213.0,620.5 Z" fill="#a3bc80" />
<path d="M214.6,622.9 L217.1,624.3 L220.5,626.0 L224.5,628.0 L229.1,630.2 L233.8,632.8 L238.6,635.6 L243.7,638.7 L249.3,642.0 L255.1,645.6 L261.0,649.5 L266.8,653.7 L272.5,658.1 L278.3,663.0 L284.2,668.5 L290.3,674.4 L296.2,680.2 L301.9,685.9 L307.3,690.9 L312.3,695.3 L316.9,699.4 L321.4,703.2 L325.6,706.6 L329.8,709.9 L334.0,712.9 L338.5,715.5 L343.0,717.8 L347.4,719.8 L351.3,721.5 L354.7,722.8 L357.1,723.8 L358.9,720.2 L356.6,718.8 L353.5,717.0 L349.9,714.9 L345.9,712.6 L341.9,709.9 L338.0,707.1 L334.2,704.2 L330.3,701.0 L326.3,697.5 L322.0,693.6 L317.5,689.5 L312.7,685.1 L307.5,680.1 L301.8,674.6 L295.9,668.6 L289.8,662.7 L283.6,657.0 L277.5,651.9 L271.3,647.4 L265.0,643.4 L258.7,639.6 L252.6,636.2 L246.8,633.1 L241.4,630.4 L236.1,628.0 L230.9,626.0 L226.1,624.3 L221.7,622.9 L218.1,621.8 L215.4,621.1 Z" fill="#cbbf7e" />
<path d="M459.0,663.5 L463.8,665.5 L469.3,668.5 L474.7,671.8 L479.3,675.0 L482.3,677.5 L483.4,679.3 L483.3,680.7 L482.1,681.8 L480.1,682.5 L477.6,683.0 L474.2,683.1 L469.6,682.7 L464.6,682.1 L459.7,681.4 L455.7,680.7 L452.6,680.2 L449.9,679.8 L447.6,679.2 L445.6,678.4 L444.0,677.0 L442.5,674.8 L441.2,671.9 L440.3,668.7 L440.1,665.9 L441.0,664.0 Z" fill="#d7b2a4" />
<circle cx="460" cy="670" r="1.3" fill="#5a3a30"/>
<path d="M421.3,707.3 L426.0,707.7 L431.2,708.9 L436.6,711.0 L441.7,713.5 L447.0,716.7 L452.4,720.5 L457.2,724.8 L460.4,729.0 L461.7,733.7 L461.6,738.8 L460.5,743.3 L458.9,746.4 L456.8,747.5 L454.1,747.3 L450.6,746.2 L446.3,744.8 L440.6,742.9 L433.8,740.3 L427.0,737.6 L421.3,735.4 L417.0,734.2 L413.6,733.4 L410.9,732.5 L408.8,730.7 L407.3,727.4 L406.3,723.0 L406.2,718.6 L407.2,715.0 Z" fill="#cbbf7e" />
<path d="M456.0,702.0 L457.6,704.2 L459.1,706.9 L460.0,709.7 L460.0,712.0 L458.8,714.2 L456.7,716.2 L454.2,717.7 L452.0,718.0 L450.0,716.6 L447.9,714.1 L446.1,710.9 L445.0,708.0 L444.7,704.9 L445.0,701.6 L445.8,698.6 L447.0,697.0 Z" fill="#cbbf7e" />
</g>
<g stroke="#463e3f" stroke-width="0.6">
<path d="M554.7,678.0 L567.6,685.0 L555.3,668.2 L573.4,677.0 L561.7,658.8 L580.5,670.0 L570.5,657.0 L585.0,673.4 L602.7,685.2 L625.0,699.2 L639.0,706.3 L649.6,718.0 L661.3,734.4 L668.0,741.0 L620.3,752.0 L613.3,743.8 L596.9,725.0 L578.0,706.3 L562.9,693.4 Z" fill="#74696a" />
<path d="M600.0,700.0 L625.0,705.0 L645.0,725.0 L655.0,738.0 L620.0,748.0 L605.0,728.0 Z" fill="#5f5556" opacity="0.5"/>
<path d="M649.4,719.8 L663.4,710.4 L678.7,703.4 L692.7,697.5 L698.0,690.0 L702.0,686.0 L706.0,694.0 L708.0,681.0 L712.0,693.0 L714.0,677.0 L718.0,692.0 L722.0,672.9 L724.0,690.0 L731.4,669.4 L733.0,690.0 L739.6,673.5 L738.0,692.0 L743.1,682.3 L735.0,706.0 L720.0,717.0 L702.0,724.0 L687.0,733.0 L676.0,740.0 L663.4,742.0 Z" fill="#74696a" />
<path d="M662.0,716.0 L665.9,714.5 L671.3,712.2 L677.7,709.7 L684.1,707.2 L690.0,705.0 L695.3,703.2 L700.5,701.5 L705.5,700.0 L710.4,698.5 L715.0,697.0 L719.6,695.4 L724.3,693.8 L728.7,692.2 L732.4,690.9 L735.0,690.0" fill="none" stroke="#5f5556" stroke-width="2" stroke-linecap="round" stroke-linejoin="round" opacity="0.6"/>
<path d="M622.0,749.0 L628.1,747.1 L633.8,745.2 L639.3,743.5 L645.0,742.0 L651.0,740.6 L657.1,739.3 L663.2,738.4 L669.0,738.0 L674.7,738.3 L680.4,739.2 L685.6,740.5 L690.0,742.0 L693.7,743.7 L696.9,745.8 L699.2,748.0 L700.0,750.0 L699.4,751.9 L697.5,753.8 L694.4,755.6 L690.0,757.0 L684.0,758.0 L676.5,758.6 L668.2,759.2 L660.0,760.0 L651.7,761.4 L643.1,763.2 L634.5,764.6 L626.0,765.0 L616.5,763.9 L606.1,761.8 L597.7,759.3 L594.0,757.0 Z" fill="#6e6465" />
<path d="M591.6,757.0 L622.0,752.0 L624.0,768.0 L611.0,779.6 L600.0,772.0 Z" fill="#d2d2d4" />
<path d="M685.0,740.0 L689.1,741.5 L693.2,743.5 L696.6,745.8 L698.6,748.0 L699.2,750.4 L698.8,752.9 L697.1,755.3 L694.0,757.0 L688.5,758.2 L681.0,758.9 L673.5,759.1 L668.0,758.4 L665.3,756.6 L664.2,753.9 L664.0,750.8 L664.0,748.0 L663.9,745.3 L664.1,742.5 L665.0,740.1 L667.0,738.5 Z" fill="#f3f3f3" />
<path d="M693.0,748.5 L701.0,750.0 L704.5,757.3 L697.0,755.0 Z" fill="#e2b13e" />
<path d="M618.0,765.0 L635.0,764.0 L637.0,770.0 L622.0,776.4 Z" fill="#d9a63c" />
</g>
<path d="M77.3,138.6 L80.3,136.6 L83.7,134.7 L87.4,132.8 L91.2,130.8 L94.9,128.8 L98.9,126.6 L103.1,124.1 L107.2,121.7 L111.1,119.6 L114.4,118.1 L117.2,117.2 L119.6,116.7 L121.6,116.6 L123.2,116.8 L124.2,117.1 L124.6,117.7 L124.5,118.6 L123.9,119.8 L123.1,120.9 L122.3,122.0 L121.2,122.8 L119.7,123.4 L118.2,124.1 L117.0,125.2 L116.4,126.9 L116.5,129.5 L117.1,132.8 L118.0,136.4 L119.1,139.8 L120.3,142.5 L121.7,144.2 L123.2,145.4 L124.9,146.3 L126.6,147.2 L128.1,148.4 L129.6,150.0 L131.1,151.8 L132.4,153.6 L133.5,155.5 L134.0,157.1 L134.0,158.7 L133.7,160.3 L132.9,161.7 L131.8,163.0 L130.1,164.0 L127.7,164.8 L124.7,165.4 L121.3,165.8 L117.8,166.0 L114.4,165.9 L111.4,165.5 L108.4,164.8 L105.4,163.9 L102.2,162.9 L98.8,162.0 L95.0,161.2 L90.9,160.5 L86.7,159.7 L82.7,158.9 L79.3,158.1 L76.4,157.4 L73.9,156.6 L71.7,155.8 L69.9,155.1 L68.6,154.2 L67.6,153.4 L66.9,152.6 L66.7,151.8 L66.9,150.7 L67.6,149.3 Z" fill="#b08c7f" />
<path d="M114.4,118.1 L117.2,117.2 L119.6,116.7 L121.6,116.6 L123.2,116.8 L124.2,117.1 L124.8,117.6 L124.8,118.5 L124.4,119.5 L123.6,120.7 L122.3,122.0 L120.3,123.7 L117.6,125.7 L114.6,127.8 L111.5,129.6 L108.6,130.8 L105.3,131.2 L101.5,131.2 L98.0,130.8 L95.5,129.9 L94.9,128.8 Z" fill="#cdafa2" />
<circle cx="100" cy="144.5" r="2.8" fill="#e8eef5" stroke="#7a5a50" stroke-width="0.8"/>
<path d="M132.0,120.0 L133.8,118.2 L136.0,116.3 L138.3,114.5 L140.4,112.8 L141.8,111.2 L142.3,109.8 L142.0,108.4 L141.6,107.2 L141.3,106.5 L141.8,106.4 L143.3,107.1 L145.7,108.6 L148.2,110.4 L150.3,112.4 L151.6,114.2 L151.7,115.7 L151.1,117.2 L150.1,118.7 L148.8,120.3 L147.7,122.0 L146.5,124.0 L145.2,126.2 L143.8,128.5 L142.4,130.4 L140.8,131.8 L139.1,132.4 L137.2,132.6 L135.3,132.4 L133.5,132.1 L132.0,131.8 L130.8,131.4 L129.7,131.1 L128.9,130.6 L128.3,129.8 L128.1,128.8 Z" fill="#b08c7f" />
<path d="M139.8,142.5 L142.8,144.3 L146.7,147.2 L150.5,150.6 L153.7,153.8 L155.5,156.2 L155.5,157.6 L154.2,158.5 L152.2,159.0 L149.8,159.2 L147.7,159.1 L145.4,158.7 L142.9,157.8 L140.2,156.8 L137.8,155.5 L135.9,154.2 L134.5,152.8 L133.2,151.1 L132.4,149.4 L131.9,147.8 L132.0,146.4 Z" fill="#cdafa2" />
<path d="M159.4,126.9 L161.9,125.7 L164.1,124.6 L166.3,123.6 L168.6,122.7 L171.1,122.0 L173.8,121.3 L176.7,120.8 L179.7,120.4 L183.0,120.1 L186.7,120.0 L191.0,120.1 L195.9,120.3 L201.0,120.7 L205.8,121.2 L210.1,122.0 L213.8,123.0 L217.1,124.4 L220.0,125.9 L222.9,127.4 L225.8,128.8 L228.9,130.2 L232.3,131.7 L235.5,133.1 L238.0,134.5 L239.4,135.7 L239.8,136.7 L239.3,137.7 L238.1,138.5 L236.2,139.1 L233.6,139.6 L230.0,139.7 L225.3,139.6 L220.1,139.3 L214.9,138.9 L210.1,138.6 L205.9,138.3 L201.7,138.0 L197.7,137.6 L194.0,137.2 L190.6,136.6 L187.8,135.9 L185.4,134.8 L183.2,133.8 L181.1,133.0 L178.9,132.7 L176.6,133.1 L174.4,133.9 L172.1,135.0 L169.8,136.0 L167.2,136.6 L164.2,136.9 L160.8,137.0 L157.4,137.0 L154.2,136.8 L151.6,136.6 L149.1,136.5 L146.7,136.3 L144.8,136.0 L143.7,135.5 L143.7,134.7 Z" fill="#a8887a" />
<path d="M167.2,137.6 L172.8,137.5 L178.9,137.5 L185.2,137.7 L191.1,138.0 L196.5,138.6 L201.1,139.5 L205.4,140.8 L209.2,142.2 L212.8,143.4 L216.0,144.4 L219.1,145.0 L221.9,145.2 L224.4,145.4 L226.4,145.7 L227.7,146.4 L228.3,147.7 L228.2,149.3 L227.6,151.2 L226.8,152.9 L225.8,154.2 L224.6,155.2 L223.3,156.1 L221.6,156.8 L219.9,157.1 L218.0,157.1 L216.0,156.6 L213.9,155.5 L211.7,154.2 L209.1,153.1 L206.2,152.3 L202.8,151.9 L199.0,151.9 L194.9,152.0 L190.7,152.2 L186.7,152.3 L182.8,152.3 L178.9,152.4 L175.0,152.5 L171.1,152.5 L167.2,152.3 L163.0,151.8 L158.6,151.2 L154.3,150.4 L150.6,149.4 L147.7,148.4 L145.4,147.0 L143.7,145.3 L142.6,143.5 L142.5,141.9 L143.7,140.5 Z" fill="#a8887a" />
<clipPath id="ribclip"><path d="M159.4,126.9 L161.9,125.7 L164.1,124.6 L166.3,123.6 L168.6,122.7 L171.1,122.0 L173.8,121.3 L176.7,120.8 L179.7,120.4 L183.0,120.1 L186.7,120.0 L191.0,120.1 L195.9,120.3 L201.0,120.7 L205.8,121.2 L210.1,122.0 L213.8,123.0 L217.1,124.4 L220.0,125.9 L222.9,127.4 L225.8,128.8 L228.9,130.2 L232.3,131.7 L235.5,133.1 L238.0,134.5 L239.4,135.7 L239.8,136.7 L239.3,137.7 L238.1,138.5 L236.2,139.1 L233.6,139.6 L230.0,139.7 L225.3,139.6 L220.1,139.3 L214.9,138.9 L210.1,138.6 L205.9,138.3 L201.7,138.0 L197.7,137.6 L194.0,137.2 L190.6,136.6 L187.8,135.9 L185.4,134.8 L183.2,133.8 L181.1,133.0 L178.9,132.7 L176.6,133.1 L174.4,133.9 L172.1,135.0 L169.8,136.0 L167.2,136.6 L164.2,136.9 L160.8,137.0 L157.4,137.0 L154.2,136.8 L151.6,136.6 L149.1,136.5 L146.7,136.3 L144.8,136.0 L143.7,135.5 L143.7,134.7 Z" fill="#000" /><path d="M167.2,137.6 L172.8,137.5 L178.9,137.5 L185.2,137.7 L191.1,138.0 L196.5,138.6 L201.1,139.5 L205.4,140.8 L209.2,142.2 L212.8,143.4 L216.0,144.4 L219.1,145.0 L221.9,145.2 L224.4,145.4 L226.4,145.7 L227.7,146.4 L228.3,147.7 L228.2,149.3 L227.6,151.2 L226.8,152.9 L225.8,154.2 L224.6,155.2 L223.3,156.1 L221.6,156.8 L219.9,157.1 L218.0,157.1 L216.0,156.6 L213.9,155.5 L211.7,154.2 L209.1,153.1 L206.2,152.3 L202.8,151.9 L199.0,151.9 L194.9,152.0 L190.7,152.2 L186.7,152.3 L182.8,152.3 L178.9,152.4 L175.0,152.5 L171.1,152.5 L167.2,152.3 L163.0,151.8 L158.6,151.2 L154.3,150.4 L150.6,149.4 L147.7,148.4 L145.4,147.0 L143.7,145.3 L142.6,143.5 L142.5,141.9 L143.7,140.5 Z" fill="#000" /></clipPath>
<g clip-path="url(#ribclip)"><line x1="130" y1="120" x2="140" y2="160" stroke="#7a5a4e" stroke-width="1.1" opacity="0.6"/><line x1="134" y1="120" x2="144" y2="160" stroke="#7a5a4e" stroke-width="1.1" opacity="0.6"/><line x1="138" y1="120" x2="148" y2="160" stroke="#7a5a4e" stroke-width="1.1" opacity="0.6"/><line x1="142" y1="120" x2="152" y2="160" stroke="#7a5a4e" stroke-width="1.1" opacity="0.6"/><line x1="146" y1="120" x2="156" y2="160" stroke="#7a5a4e" stroke-width="1.1" opacity="0.6"/><line x1="150" y1="120" x2="160" y2="160" stroke="#7a5a4e" stroke-width="1.1" opacity="0.6"/><line x1="154" y1="120" x2="164" y2="160" stroke="#7a5a4e" stroke-width="1.1" opacity="0.6"/><line x1="158" y1="120" x2="168" y2="160" stroke="#7a5a4e" stroke-width="1.1" opacity="0.6"/><line x1="162" y1="120" x2="172" y2="160" stroke="#7a5a4e" stroke-width="1.1" opacity="0.6"/><line x1="166" y1="120" x2="176" y2="160" stroke="#7a5a4e" stroke-width="1.1" opacity="0.6"/><line x1="170" y1="120" x2="180" y2="160" stroke="#7a5a4e" stroke-width="1.1" opacity="0.6"/><line x1="174" y1="120" x2="184" y2="160" stroke="#7a5a4e" stroke-width="1.1" opacity="0.6"/><line x1="178" y1="120" x2="188" y2="160" stroke="#7a5a4e" stroke-width="1.1" opacity="0.6"/><line x1="182" y1="120" x2="192" y2="160" stroke="#7a5a4e" stroke-width="1.1" opacity="0.6"/><line x1="186" y1="120" x2="196" y2="160" stroke="#7a5a4e" stroke-width="1.1" opacity="0.6"/><line x1="190" y1="120" x2="200" y2="160" stroke="#7a5a4e" stroke-width="1.1" opacity="0.6"/><line x1="194" y1="120" x2="204" y2="160" stroke="#7a5a4e" stroke-width="1.1" opacity="0.6"/><line x1="198" y1="120" x2="208" y2="160" stroke="#7a5a4e" stroke-width="1.1" opacity="0.6"/><line x1="202" y1="120" x2="212" y2="160" stroke="#7a5a4e" stroke-width="1.1" opacity="0.6"/><line x1="206" y1="120" x2="216" y2="160" stroke="#7a5a4e" stroke-width="1.1" opacity="0.6"/><line x1="210" y1="120" x2="220" y2="160" stroke="#7a5a4e" stroke-width="1.1" opacity="0.6"/><line x1="214" y1="120" x2="224" y2="160" stroke="#7a5a4e" stroke-width="1.1" opacity="0.6"/><line x1="218" y1="120" x2="228" y2="160" stroke="#7a5a4e" stroke-width="1.1" opacity="0.6"/><line x1="222" y1="120" x2="232" y2="160" stroke="#7a5a4e" stroke-width="1.1" opacity="0.6"/><line x1="226" y1="120" x2="236" y2="160" stroke="#7a5a4e" stroke-width="1.1" opacity="0.6"/><line x1="230" y1="120" x2="240" y2="160" stroke="#7a5a4e" stroke-width="1.1" opacity="0.6"/><line x1="234" y1="120" x2="244" y2="160" stroke="#7a5a4e" stroke-width="1.1" opacity="0.6"/><line x1="238" y1="120" x2="248" y2="160" stroke="#7a5a4e" stroke-width="1.1" opacity="0.6"/></g>
<path d="M848.0,159.7 L848.1,161.0 L848.1,162.8 L848.1,164.9 L848.1,167.2 L848.1,169.5 L848.0,171.6 L847.8,173.9 L847.5,176.3 L847.2,178.8 L846.9,181.2 L846.7,183.2 L846.5,184.6 L851.5,185.4 L851.8,184.0 L852.2,182.0 L852.7,179.7 L853.1,177.2 L853.6,174.7 L854.0,172.4 L854.4,170.1 L854.8,167.8 L855.1,165.5 L855.4,163.3 L855.7,161.6 L856.0,160.3 Z" fill="#6c5e68" />
<path d="M849.0,185.0 L836.0,196.0" fill="none" stroke="#6c5e68" stroke-width="2" stroke-linecap="round" stroke-linejoin="round" />
<path d="M849.0,185.0 L841.0,201.0" fill="none" stroke="#6c5e68" stroke-width="2" stroke-linecap="round" stroke-linejoin="round" />
<path d="M849.0,185.0 L848.0,203.0" fill="none" stroke="#6c5e68" stroke-width="2" stroke-linecap="round" stroke-linejoin="round" />
<path d="M849.0,185.0 L855.0,198.0" fill="none" stroke="#6c5e68" stroke-width="1.6" stroke-linecap="round" stroke-linejoin="round" />
<path d="M899.1,119.1 L898.8,121.2 L898.3,124.1 L897.8,127.5 L897.2,131.1 L896.6,134.4 L896.1,137.3 L895.6,139.8 L895.1,142.2 L894.6,144.4 L894.2,146.4 L893.8,148.1 L893.6,149.4 L898.4,150.6 L898.8,149.4 L899.3,147.8 L899.9,145.8 L900.6,143.6 L901.2,141.2 L901.9,138.7 L902.7,135.8 L903.7,132.5 L904.6,129.0 L905.5,125.7 L906.3,122.9 L906.9,120.9 Z" fill="#6c5e68" />
<path d="M896.0,150.0 L887.0,147.0" fill="none" stroke="#6c5e68" stroke-width="2" stroke-linecap="round" stroke-linejoin="round" />
<path d="M896.0,150.0 L889.0,157.0" fill="none" stroke="#6c5e68" stroke-width="2" stroke-linecap="round" stroke-linejoin="round" />
<path d="M896.0,150.0 L897.0,159.0" fill="none" stroke="#6c5e68" stroke-width="2" stroke-linecap="round" stroke-linejoin="round" />
<path d="M896.0,150.0 L903.0,156.0" fill="none" stroke="#6c5e68" stroke-width="1.6" stroke-linecap="round" stroke-linejoin="round" />
<path d="M795.8,167.6 L797.4,168.6 L799.2,169.3 L800.9,170.1 L802.5,171.0 L803.8,172.1 L804.6,173.4 L805.3,173.5 L806.9,173.7 L809.2,174.0 L812.2,174.3 L815.7,174.5 L819.5,174.4 L822.8,173.9 L826.2,173.3 L829.7,172.6 L833.5,171.7 L837.3,170.5 L841.1,169.0 L844.7,167.4 L848.1,165.6 L851.5,163.7 L854.8,161.5 L858.1,159.1 L861.5,156.5 L864.9,153.4 L868.1,150.1 L871.0,146.9 L873.8,143.9 L876.3,141.1 L879.0,138.4 L881.9,135.6 L884.9,132.6 L887.7,129.9 L890.4,127.5 L893.0,125.4 L895.3,123.8 L897.9,122.3 L900.7,121.0 L903.5,119.9 L906.2,119.0 L908.7,118.3 L910.9,118.0 L913.0,117.7 L915.1,117.6 L917.2,117.7 L919.1,118.0 L920.9,118.4 L922.4,118.9 L923.9,119.5 L925.4,120.5 L927.0,121.9 L928.5,123.5 L929.9,125.3 L931.1,127.1 L932.0,129.1 L932.8,131.4 L933.4,134.0 L933.8,136.7 L934.1,139.4 L934.1,142.1 L933.9,145.0 L933.5,147.9 L932.8,150.8 L932.0,153.6 L931.0,156.3 L929.7,158.6 L928.0,160.9 L925.9,163.2 L923.4,165.4 L920.6,167.6 L917.6,169.5 L914.4,171.3 L911.0,172.8 L907.2,174.2 L903.0,175.3 L898.7,176.4 L894.5,177.4 L890.5,178.6 L886.7,179.6 L882.9,180.5 L879.2,181.4 L875.6,182.4 L872.3,183.4 L869.4,184.6 L866.9,186.1 L864.8,187.8 L863.0,189.6 L861.6,191.2 L860.5,192.6 L859.7,193.6 L860.3,194.4 L861.4,193.6 L862.8,192.4 L864.4,191.0 L866.2,189.7 L868.3,188.4 L870.6,187.4 L873.3,186.6 L876.5,185.9 L880.0,185.3 L883.7,184.8 L887.6,184.1 L891.5,183.4 L895.6,182.8 L899.9,182.3 L904.3,181.7 L908.9,181.0 L913.3,180.0 L917.6,178.7 L921.5,177.1 L925.3,175.3 L928.9,173.2 L932.3,170.9 L935.5,168.3 L938.3,165.4 L940.9,162.1 L943.0,158.6 L944.7,154.9 L946.0,151.2 L947.1,147.5 L947.9,143.9 L948.5,140.1 L948.8,136.3 L948.8,132.4 L948.5,128.5 L947.9,124.7 L946.9,120.9 L945.6,117.3 L944.0,113.7 L942.0,110.3 L939.6,107.0 L936.8,103.9 L933.6,101.1 L929.9,98.9 L926.1,97.1 L922.1,95.7 L917.9,94.7 L913.5,94.2 L909.1,94.0 L904.6,94.5 L900.1,95.4 L895.7,96.6 L891.3,98.2 L887.0,100.0 L882.7,102.2 L878.4,104.9 L874.5,107.8 L870.8,110.8 L867.4,113.9 L864.2,116.8 L861.0,119.6 L857.8,122.6 L854.6,125.8 L851.7,128.8 L849.1,131.5 L846.7,133.7 L844.5,135.5 L842.2,137.1 L839.9,138.6 L837.6,139.9 L835.4,141.1 L833.1,142.1 L830.9,143.0 L828.7,143.6 L826.5,144.2 L824.0,144.7 L821.5,145.0 L818.8,145.4 L816.5,145.6 L814.8,145.9 L812.9,146.0 L810.6,146.1 L808.0,146.1 L804.9,146.2 L801.4,146.6 L798.3,148.6 L795.9,150.7 L794.2,152.9 L793.0,154.9 L792.4,156.7 L792.2,158.4 Z" fill="#6c5e68" />
<path d="M845.0,150.0 L847.0,147.8 L849.7,144.8 L852.9,141.2 L856.4,137.5 L860.0,134.0 L863.6,130.6 L867.4,127.0 L871.4,123.4 L875.6,120.0 L880.0,117.0 L885.1,114.2 L890.8,111.6 L896.6,109.3 L901.5,107.4 L905.0,106.0" fill="none" stroke="#8a7d86" stroke-width="2" stroke-linecap="round" stroke-linejoin="round" opacity="0.6"/>
<ellipse cx="836" cy="141" rx="4" ry="4.5" fill="#6c5e68"/>
<ellipse cx="805" cy="153" rx="4.4" ry="3.5" fill="#e6b064"/>
<ellipse cx="821" cy="156" rx="4.4" ry="3.5" fill="#e6b064"/>
<ellipse cx="839" cy="152" rx="4.4" ry="3.5" fill="#e6b064"/>
<ellipse cx="853" cy="152" rx="4.4" ry="3.5" fill="#e6b064"/>
<ellipse cx="866" cy="140" rx="4.4" ry="3.5" fill="#e6b064"/>
<ellipse cx="876" cy="128" rx="4.4" ry="3.5" fill="#e6b064"/>
<ellipse cx="887" cy="117" rx="4.4" ry="3.5" fill="#e6b064"/>
<ellipse cx="901" cy="109" rx="4.4" ry="3.5" fill="#e6b064"/>
<ellipse cx="919" cy="108" rx="4.4" ry="3.5" fill="#e6b064"/>
<ellipse cx="932" cy="117" rx="4.4" ry="3.5" fill="#e6b064"/>
<ellipse cx="941" cy="132" rx="4.4" ry="3.5" fill="#e6b064"/>
<ellipse cx="939" cy="142" rx="4.4" ry="3.5" fill="#e6b064"/>
<circle cx="815" cy="164" r="2.2" fill="#111"/>
<path d="M81.1,882.6 L93.4,872.1 L105.7,877.4 L94.3,888.8 Z" fill="#f2e9dd" stroke="#7a7a7a" stroke-width="0.7"/>
<path d="M149.7,912.5 L158.4,903.7 L177.8,907.2 L167.2,921.3 Z" fill="#f2e9dd" stroke="#7a7a7a" stroke-width="0.7"/>
<path d="M185.7,880.9 L195.4,872.1 L213.8,875.6 L203.3,891.4 Z" fill="#f2e9dd" stroke="#7a7a7a" stroke-width="0.7"/>
<path d="M204.2,852.7 L234.0,848.3" fill="none" stroke="#707278" stroke-width="2" stroke-linecap="round" stroke-linejoin="round" />
<rect x="95.2" y="866.8" width="10.5" height="10.5" fill="#74767b" stroke="#55575c" stroke-width="0.6"/>
<rect x="104.0" y="864.2" width="8.8" height="10.5" fill="#74767b" stroke="#55575c" stroke-width="0.6"/>
<rect x="109.2" y="870.3" width="8.8" height="12.3" fill="#74767b" stroke="#55575c" stroke-width="0.6"/>
<rect x="133.8" y="880.9" width="10.5" height="14.9" fill="#74767b" stroke="#55575c" stroke-width="0.6"/>
<rect x="147.0" y="887.9" width="12.3" height="10.5" fill="#74767b" stroke="#55575c" stroke-width="0.6"/>
<rect x="157.6" y="893.2" width="10.5" height="12.3" fill="#74767b" stroke="#55575c" stroke-width="0.6"/>
<rect x="165.5" y="824.6" width="9.7" height="9.7" fill="#74767b" stroke="#55575c" stroke-width="0.6"/>
<rect x="170.8" y="830.8" width="9.7" height="8.8" fill="#74767b" stroke="#55575c" stroke-width="0.6"/>
<rect x="183.1" y="845.7" width="10.5" height="12.3" fill="#74767b" stroke="#55575c" stroke-width="0.6"/>
<rect x="190.1" y="852.7" width="12.3" height="12.3" fill="#74767b" stroke="#55575c" stroke-width="0.6"/>
<rect x="198.9" y="865.0" width="10.5" height="12.3" fill="#74767b" stroke="#55575c" stroke-width="0.6"/>
<path d="M137.4,894.9 L151.4,902.0" fill="none" stroke="#cfa8a2" stroke-width="3" stroke-linecap="round" stroke-linejoin="round" />
<path d="M183.1,852.7 L184.6,853.9 L186.7,855.5 L189.1,857.3 L191.6,859.4 L193.6,861.5 L195.4,864.0 L197.0,866.8 L198.5,869.6 L199.7,872.1 L200.6,873.8" fill="none" stroke="#cfa8a2" stroke-width="3" stroke-linecap="round" stroke-linejoin="round" />
<path d="M135.6,852.7 L136.4,854.2 L137.6,856.3 L138.9,858.7 L140.1,861.1 L140.9,863.3 L141.1,865.3 L140.9,867.4 L140.6,869.3 L140.2,870.9 L140.0,872.1" fill="none" stroke="#7f8792" stroke-width="1.3" stroke-linecap="round" stroke-linejoin="round" />
<path d="M144.4,847.5 L145.2,848.9 L146.4,851.0 L147.7,853.4 L148.9,855.8 L149.7,858.0 L149.9,860.0 L149.7,862.1 L149.4,864.0 L149.0,865.6 L148.8,866.8" fill="none" stroke="#7f8792" stroke-width="1.3" stroke-linecap="round" stroke-linejoin="round" />
<path d="M151.4,842.2 L152.2,843.7 L153.4,845.7 L154.8,848.1 L155.9,850.6 L156.7,852.7 L156.9,854.8 L156.7,856.8 L156.4,858.7 L156.0,860.4 L155.8,861.5" fill="none" stroke="#7f8792" stroke-width="1.3" stroke-linecap="round" stroke-linejoin="round" />
<path d="M158.4,854.5 L159.3,856.0 L160.5,858.0 L161.8,860.4 L163.0,862.9 L163.7,865.0 L163.9,867.1 L163.8,869.1 L163.4,871.0 L163.1,872.7 L162.8,873.8" fill="none" stroke="#7f8792" stroke-width="1.3" stroke-linecap="round" stroke-linejoin="round" />
<path d="M165.5,849.2 L166.3,850.7 L167.5,852.8 L168.8,855.2 L170.0,857.6 L170.8,859.8 L171.0,861.8 L170.8,863.8 L170.5,865.8 L170.1,867.4 L169.9,868.6" fill="none" stroke="#7f8792" stroke-width="1.3" stroke-linecap="round" stroke-linejoin="round" />
<path d="M172.5,847.5 L173.3,848.9 L174.5,851.0 L175.9,853.4 L177.0,855.8 L177.8,858.0 L178.0,860.0 L177.8,862.1 L177.5,864.0 L177.1,865.6 L176.9,866.8" fill="none" stroke="#7f8792" stroke-width="1.3" stroke-linecap="round" stroke-linejoin="round" />
<path d="M126.8,859.8 L127.6,861.2 L128.8,863.3 L130.2,865.7 L131.3,868.2 L132.1,870.3 L132.3,872.3 L132.1,874.4 L131.8,876.3 L131.4,877.9 L131.2,879.1" fill="none" stroke="#7f8792" stroke-width="1.3" stroke-linecap="round" stroke-linejoin="round" />
<path d="M140.9,873.8 L141.7,875.3 L142.9,877.4 L144.2,879.8 L145.4,882.2 L146.1,884.4 L146.3,886.4 L146.2,888.4 L145.8,890.4 L145.5,892.0 L145.3,893.2" fill="none" stroke="#7f8792" stroke-width="1.3" stroke-linecap="round" stroke-linejoin="round" />
<path d="M147.9,866.8 L148.7,868.3 L149.9,870.3 L151.3,872.8 L152.4,875.2 L153.2,877.4 L153.4,879.4 L153.2,881.4 L152.9,883.3 L152.5,885.0 L152.3,886.1" fill="none" stroke="#7f8792" stroke-width="1.3" stroke-linecap="round" stroke-linejoin="round" />
<path d="M118.0,896.7 L119.7,895.3 L121.9,893.3 L124.5,890.9 L127.4,888.3 L130.2,885.8 L132.8,883.4 L134.8,880.6 L136.9,877.8 L138.9,875.1 L140.9,872.4 L142.8,869.8 L144.7,867.2 L146.8,865.1 L148.7,863.1 L150.6,861.2 L152.5,859.3 L154.4,857.5 L156.4,855.7 L158.6,853.8 L160.8,851.9 L162.9,850.1 L165.0,848.5 L167.1,847.0 L169.4,845.8 L171.8,844.9 L174.6,844.0 L177.8,843.3 L181.2,842.5 L184.6,841.8 L188.0,840.8 L191.0,839.8 L193.8,838.7 L196.7,837.7 L199.7,836.5 L202.7,835.1 L205.9,833.5 L209.3,831.1 L213.0,828.3 L216.7,825.5 L220.1,822.7 L223.0,820.3 L224.9,818.4 L223.8,816.7 L221.3,817.7 L218.0,819.3 L214.0,821.2 L209.9,823.2 L205.9,825.0 L202.4,826.3 L199.5,827.4 L196.7,828.4 L193.9,829.1 L191.1,829.8 L188.2,830.5 L185.2,831.2 L182.2,832.1 L179.0,832.8 L175.6,833.5 L172.1,834.4 L168.5,835.4 L165.1,836.8 L162.0,838.5 L159.2,840.3 L156.6,842.3 L154.3,844.3 L152.1,846.2 L149.9,848.1 L147.7,849.9 L145.5,851.7 L143.4,853.5 L141.3,855.4 L139.2,857.3 L137.0,859.3 L134.4,861.2 L131.7,863.2 L129.0,865.2 L126.2,867.3 L123.5,869.3 L120.8,871.3 L118.4,874.0 L115.8,876.8 L113.2,879.6 L110.8,882.2 L108.8,884.5 L107.4,886.1 Z" fill="#cfa8a2" />
<path d="M86.4,900.2 L89.7,897.6 L93.7,894.9 L98.0,892.3 L102.1,889.9 L105.7,887.9 L108.7,886.4 L111.4,885.2 L113.8,884.4 L116.0,883.8 L118.0,883.5 L120.0,883.4 L121.9,883.6 L123.5,884.1 L124.6,884.9 L125.0,886.1 L124.6,888.0 L123.3,890.5 L121.6,893.2 L119.8,895.9 L118.0,898.4 L116.3,900.7 L114.5,903.0 L112.7,905.2 L110.9,907.2 L109.2,909.0 L107.9,910.6 L106.9,912.0 L105.8,913.2 L104.4,914.2 L102.2,915.1 L98.9,916.0 L94.7,916.7 L90.2,917.2 L86.1,917.5 L82.9,917.4 L80.5,917.0 L78.7,916.3 L77.4,915.4 L76.7,914.1 L76.7,912.5 Z" fill="#cfa8a2" />
<path d="M86.4,910.8 L112.7,898.4" fill="none" stroke="#a88580" stroke-width="1.2" stroke-linecap="round" stroke-linejoin="round" />
<path d="M893.4,884.3 L914.6,905.3 L920.0,899.9 L898.9,878.8 Z" fill="#7b7d82" stroke="#5e6065" stroke-width="0.8"/>
<path d="M912.4,902.7 L901.9,922.1 L908.0,925.4 L918.6,906.1 Z" fill="#a9abb0" stroke="#5e6065" stroke-width="0.8"/>
<path d="M921.2,880.3 L940.6,906.7 L946.8,902.1 L927.4,875.7 Z" fill="#7b7d82" stroke="#5e6065" stroke-width="0.8"/>
<path d="M938.7,904.0 L929.9,926.0 L936.3,928.6 L945.2,906.6 Z" fill="#a9abb0" stroke="#5e6065" stroke-width="0.8"/>
<path d="M896.2,846.5 L932.8,846.5 L932.8,883.0 L889.6,883.0 Z" fill="#7b7d82" />
<path d="M826.5,823.2 L859.7,818.3 L896.2,824.9 L896.2,883.0 L876.3,884.7 L844.8,879.7 L826.5,854.8 Z" fill="#7b7d82" />
<path d="M896.2,846.5 L912.8,846.5 L912.8,863.1 L896.2,863.1 Z" fill="#909297" />
<circle cx="876" cy="850" r="13" fill="#6a6c71" stroke="#45474c" stroke-width="2"/>
<circle cx="855" cy="850" r="9" fill="#5d5f64" stroke="#45474c" stroke-width="1.5"/>
<path d="M826.5,833.2 L844.8,836.5 L834.8,869.7 L823.2,854.8 Z" fill="#8c8e93" />
<path d="M829.5,872.1 L859.5,905.5 L865.9,899.8 L836.1,866.3 Z" fill="#7b7d82" stroke="#5e6065" stroke-width="0.8"/>
<path d="M858.4,901.3 L833.0,941.0 L839.6,945.3 L865.2,905.7 Z" fill="#a9abb0" stroke="#5e6065" stroke-width="0.8"/>
<path d="M851.3,878.0 L890.1,906.1 L895.2,899.1 L856.5,870.9 Z" fill="#7b7d82" stroke="#5e6065" stroke-width="0.8"/>
<path d="M887.1,902.8 L869.6,945.1 L876.9,948.2 L894.6,906.0 Z" fill="#a9abb0" stroke="#5e6065" stroke-width="0.8"/>
<path d="M792.5,841.5 L821.5,839.0 L823.2,863.1 L794.1,863.9 Z" fill="#96989d" stroke="#5e6065" stroke-width="0.8"/>
<path d="M821.5,843.2 L829.8,843.2 L829.8,859.8 L821.5,859.8 Z" fill="#505257" />
<path d="M803.3,843.2 L811.6,842.3 L812.4,861.4 L804.1,861.8 Z" fill="#6f7176" />
<path d="M828.2,833.2 L828.8,831.1 L829.5,828.0 L830.5,824.5 L831.7,821.1 L833.2,818.3 L835.0,816.1 L837.2,814.2 L839.6,812.5 L842.1,811.1 L844.8,810.0 L847.6,809.0 L850.6,808.3 L853.7,807.9 L856.8,807.6 L859.7,807.5 L862.7,807.6 L865.8,807.9 L868.7,808.4 L871.2,808.8 L873.0,809.1" fill="none" stroke="#55575c" stroke-width="5.6" stroke-linecap="round"/><path d="M828.2,833.2 L828.8,831.1 L829.5,828.0 L830.5,824.5 L831.7,821.1 L833.2,818.3 L835.0,816.1 L837.2,814.2 L839.6,812.5 L842.1,811.1 L844.8,810.0 L847.6,809.0 L850.6,808.3 L853.7,807.9 L856.8,807.6 L859.7,807.5 L862.7,807.6 L865.8,807.9 L868.7,808.4 L871.2,808.8 L873.0,809.1" fill="none" stroke="#c9c9cc" stroke-width="4.2" stroke-dasharray="2 1" stroke-linecap="round"/>
<ellipse cx="878.5" cy="836" rx="15" ry="29" fill="none" stroke="#55575c" stroke-width="5.6" transform="rotate(8 878.5 836)"/><ellipse cx="878.5" cy="836" rx="15" ry="29" fill="none" stroke="#c9c9cc" stroke-width="4.2" transform="rotate(8 878.5 836)"/>
<path d="M892.9,821.6 L894.7,822.8 L897.1,824.5 L900.0,826.4 L903.1,828.3 L906.2,829.9 L909.4,831.1 L912.8,832.2 L916.2,833.1 L919.6,834.0 L922.8,834.9 L925.7,835.5 L928.5,835.9 L931.2,836.3 L933.7,837.0 L936.1,838.2 L938.5,839.9 L940.9,842.0 L943.1,844.4 L944.8,847.0 L946.0,849.8 L946.6,853.0 L946.7,856.7 L946.3,860.5 L945.5,863.9 L944.4,866.4 L942.5,868.0 L939.9,868.8 L937.0,869.3 L934.5,869.5 L932.8,869.7" fill="none" stroke="#55575c" stroke-width="5.6" stroke-linecap="round"/><path d="M892.9,821.6 L894.7,822.8 L897.1,824.5 L900.0,826.4 L903.1,828.3 L906.2,829.9 L909.4,831.1 L912.8,832.2 L916.2,833.1 L919.6,834.0 L922.8,834.9 L925.7,835.5 L928.5,835.9 L931.2,836.3 L933.7,837.0 L936.1,838.2 L938.5,839.9 L940.9,842.0 L943.1,844.4 L944.8,847.0 L946.0,849.8 L946.6,853.0 L946.7,856.7 L946.3,860.5 L945.5,863.9 L944.4,866.4 L942.5,868.0 L939.9,868.8 L937.0,869.3 L934.5,869.5 L932.8,869.7" fill="none" stroke="#c9c9cc" stroke-width="4.2" stroke-dasharray="2 1" stroke-linecap="round"/>
<path d="M894.6,841.5 L896.1,841.2 L898.2,840.7 L900.6,840.2 L903.4,839.9 L906.2,839.8 L909.5,840.2 L913.3,841.0 L917.1,841.8 L920.5,842.6 L922.8,843.2" fill="none" stroke="#55575c" stroke-width="4.4" stroke-linecap="round"/><path d="M894.6,841.5 L896.1,841.2 L898.2,840.7 L900.6,840.2 L903.4,839.9 L906.2,839.8 L909.5,840.2 L913.3,841.0 L917.1,841.8 L920.5,842.6 L922.8,843.2" fill="none" stroke="#c9c9cc" stroke-width="3" stroke-dasharray="2 1" stroke-linecap="round"/>
<path d="M828.2,833.2 L827.6,832.5 L826.8,831.6 L825.9,830.6 L825.2,829.4 L824.9,828.2 L825.1,826.8 L825.6,825.2 L826.4,823.6 L827.3,822.3 L828.2,821.6 L829.1,821.7 L830.3,822.4 L831.4,823.3 L832.5,824.3 L833.2,824.9" fill="none" stroke="#b23a3a" stroke-width="1.8" stroke-linecap="round" stroke-linejoin="round" />
<path d="M848.1,818.3 L848.2,820.5 L848.2,823.7 L848.4,827.3 L848.9,830.7 L849.8,833.2 L851.4,834.7 L853.6,835.5 L856.1,836.0 L858.2,836.3 L859.7,836.5" fill="none" stroke="#b23a3a" stroke-width="1.8" stroke-linecap="round" stroke-linejoin="round" />
<path d="M909.5,849.8 L908.9,851.7 L907.8,854.5 L906.7,857.6 L906.1,860.6 L906.2,863.1 L907.4,865.2 L909.5,867.3 L911.9,869.1 L914.3,870.0 L916.2,869.7 L917.6,867.6 L918.7,864.0 L919.7,859.7 L920.5,855.7 L921.1,853.1" fill="none" stroke="#b23a3a" stroke-width="1.8" stroke-linecap="round" stroke-linejoin="round" />
<path d="M944.4,848.1 L945.2,848.8 L946.3,849.7 L947.6,850.8 L948.7,851.9 L949.4,853.1 L949.4,854.4 L949.1,856.0 L948.6,857.5 L948.0,858.8 L947.7,859.8" fill="none" stroke="#b23a3a" stroke-width="1.8" stroke-linecap="round" stroke-linejoin="round" />
<path d="M843.1,833.2 L843.2,831.4 L843.3,828.7 L843.6,825.7 L844.0,823.1 L844.8,821.6 L846.1,821.3 L848.0,822.0 L850.0,823.1 L851.8,824.2 L853.1,824.9" fill="none" stroke="#3a6ab5" stroke-width="1.8" stroke-linecap="round" stroke-linejoin="round" />
<path d="M868.0,806.6 L869.7,806.1 L872.2,805.3 L874.9,804.5 L877.6,804.1 L879.6,804.1 L881.1,805.1 L882.3,806.8 L883.3,808.7 L884.0,810.4 L884.6,811.6" fill="none" stroke="#3a6ab5" stroke-width="1.8" stroke-linecap="round" stroke-linejoin="round" />
<path d="M876.3,833.2 L877.2,831.4 L878.4,828.6 L879.9,825.6 L881.4,823.0 L883.0,821.6 L884.6,821.6 L886.6,822.6 L888.5,824.1 L890.1,825.6 L891.3,826.6" fill="none" stroke="#3a6ab5" stroke-width="1.8" stroke-linecap="round" stroke-linejoin="round" />
<path d="M878.0,864.7 L879.6,866.2 L882.0,868.3 L884.6,870.6 L887.3,872.4 L889.6,873.0 L891.6,872.1 L893.6,869.9 L895.3,867.2 L896.8,864.7 L897.9,863.1" fill="none" stroke="#3a6ab5" stroke-width="1.8" stroke-linecap="round" stroke-linejoin="round" />
<path d="M936.1,841.5 L937.1,841.6 L938.5,841.6 L940.1,841.7 L941.6,842.2 L942.7,843.2 L943.4,845.0 L943.8,847.6 L944.1,850.5 L944.2,853.0 L944.4,854.8" fill="none" stroke="#3a6ab5" stroke-width="1.8" stroke-linecap="round" stroke-linejoin="round" />
<path d="M909.5,824.9 L910.3,825.8 L911.6,827.1 L912.9,828.6 L914.0,830.1 L914.5,831.5 L914.3,833.0 L913.6,834.5 L912.7,836.0 L911.8,837.3 L911.2,838.2" fill="none" stroke="#3a6ab5" stroke-width="1.8" stroke-linecap="round" stroke-linejoin="round" />
<path d="M861.4,814.9 L862.3,813.3 L863.5,810.8 L864.9,808.1 L866.5,806.0 L868.0,805.0 L869.7,805.6 L871.6,807.4 L873.5,809.7 L875.2,811.9 L876.3,813.3" fill="none" stroke="#3a8a5a" stroke-width="1.8" stroke-linecap="round" stroke-linejoin="round" />
<path d="M876.3,828.2 L877.8,827.2 L879.9,825.6 L882.3,823.9 L884.6,822.9 L886.3,823.2 L887.4,825.4 L888.2,829.1 L888.8,833.4 L889.3,837.2 L889.6,839.8" fill="none" stroke="#3a8a5a" stroke-width="1.8" stroke-linecap="round" stroke-linejoin="round" />
<path d="M892.9,839.8 L894.4,840.2 L896.5,840.8 L898.9,841.4 L901.2,842.2 L902.9,843.2 L904.0,844.4 L904.8,845.9 L905.4,847.5 L905.9,848.8 L906.2,849.8" fill="none" stroke="#3a8a5a" stroke-width="1.8" stroke-linecap="round" stroke-linejoin="round" />
</svg></body></html>
